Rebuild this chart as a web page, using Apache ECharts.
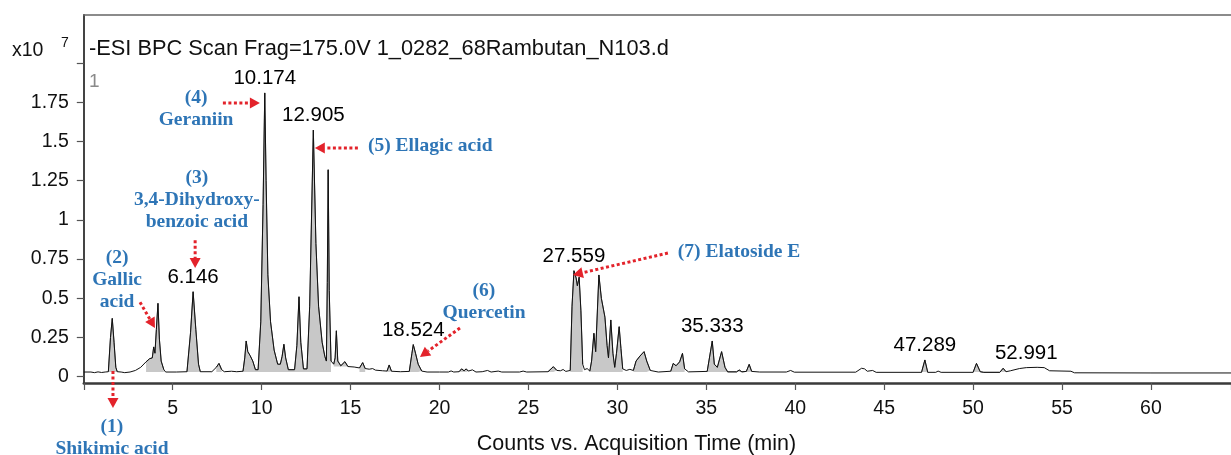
<!DOCTYPE html>
<html><head><meta charset="utf-8">
<script src="https://cdn.jsdelivr.net/npm/echarts@6/dist/echarts.min.js"></script>
<style>html,body{margin:0;padding:0;background:#fff}#c{width:1231px;height:455px}</style>
</head><body><div id="c"></div>
<script>
// ---- data (intensity in units of 10^7 counts, time in min) ----
const traceTime = [0.0,0.4,0.6,0.8,1.0,1.2,1.38,1.5,1.6,1.7,1.8,1.88,2.1,2.3,2.6,2.9,3.2,3.5,3.7,3.85,3.93,4.0,4.08,4.17,4.25,4.35,4.5,4.6,5.2,5.8,6.0,6.146,6.3,6.45,6.55,7.2,7.45,7.6,7.75,7.9,8.3,8.6,8.95,9.05,9.13,9.22,9.35,9.5,9.65,9.8,9.95,10.08,10.174,10.25,10.35,10.5,10.7,10.9,11.05,11.15,11.25,11.35,11.5,11.85,11.98,12.1,12.2,12.35,12.55,12.7,12.905,13.05,13.2,13.4,13.55,13.64,13.69,13.74,13.8,13.9,14.05,14.13,14.2,14.28,14.45,14.68,14.85,15.2,15.5,15.68,15.82,16.05,16.24,16.4,16.8,17.05,17.17,17.3,17.8,18.3,18.45,18.524,18.65,18.8,19.0,19.3,20.0,20.5,20.65,20.8,21.1,21.24,21.38,21.5,21.62,21.85,22.05,22.4,22.7,22.9,23.3,23.5,24.5,24.7,24.9,26.1,26.4,26.6,26.8,26.95,27.1,27.35,27.45,27.559,27.68,27.75,27.85,27.95,28.05,28.15,28.3,28.45,28.55,28.68,28.78,28.85,28.96,29.1,29.3,29.42,29.5,29.63,29.75,29.85,29.95,30.1,30.2,30.3,30.5,30.7,30.9,31.05,31.27,31.5,31.65,31.85,32.3,33.0,33.14,33.3,33.5,33.66,33.78,34.0,35.05,35.333,35.45,35.62,35.86,36.05,36.2,36.7,36.85,37.0,37.25,37.41,37.55,38.0,39.5,39.74,39.95,43.4,43.73,43.9,44.05,44.35,44.55,47.1,47.289,47.45,47.9,48.03,48.2,50.0,50.19,50.4,50.6,51.5,51.69,51.85,52.1,52.6,52.991,53.6,54.0,54.3,55.5,55.7,60.0,64.5];
const traceIntensity = [0.03,0.03,0.026,0.031,0.027,0.03,0.032,0.25,0.372,0.22,0.06,0.032,0.03,0.026,0.03,0.04,0.06,0.095,0.115,0.12,0.19,0.15,0.3,0.468,0.24,0.1,0.045,0.03,0.03,0.032,0.28,0.542,0.3,0.08,0.032,0.032,0.06,0.085,0.045,0.032,0.035,0.032,0.035,0.12,0.228,0.16,0.135,0.1,0.045,0.045,0.35,1.1,1.81,1.25,0.65,0.35,0.17,0.08,0.08,0.13,0.207,0.12,0.045,0.045,0.2,0.51,0.22,0.05,0.05,0.45,1.573,0.85,0.45,0.22,0.13,0.1,0.6,1.32,0.55,0.1,0.08,0.12,0.293,0.1,0.07,0.096,0.065,0.062,0.056,0.09,0.052,0.048,0.052,0.042,0.038,0.036,0.075,0.035,0.032,0.034,0.15,0.205,0.15,0.08,0.036,0.03,0.03,0.03,0.037,0.03,0.032,0.05,0.038,0.05,0.036,0.044,0.03,0.032,0.04,0.03,0.036,0.03,0.03,0.036,0.03,0.032,0.064,0.04,0.038,0.046,0.034,0.04,0.45,0.676,0.63,0.58,0.635,0.42,0.08,0.045,0.052,0.036,0.1,0.277,0.16,0.17,0.649,0.5,0.38,0.2,0.12,0.362,0.15,0.06,0.15,0.319,0.18,0.05,0.04,0.047,0.04,0.1,0.132,0.16,0.1,0.04,0.03,0.035,0.085,0.07,0.095,0.149,0.05,0.031,0.034,0.228,0.08,0.06,0.16,0.06,0.031,0.031,0.043,0.031,0.034,0.079,0.034,0.03,0.03,0.04,0.029,0.029,0.054,0.05,0.035,0.04,0.028,0.028,0.107,0.028,0.028,0.036,0.028,0.028,0.085,0.032,0.028,0.028,0.054,0.032,0.038,0.052,0.058,0.06,0.058,0.038,0.035,0.025,0.024,0.024];
// integrated (shaded) peak windows [start, end] in min, on the main baseline
const fillWindows = [[1.38,1.88],[3.5,4.5],[5.8,6.55],[7.45,7.75],[8.95,9.65],[9.8,10.9],[11.05,11.5],[11.85,12.35],[12.55,13.64],[13.64,13.9],[15.5,15.82],[17.05,17.3],[18.3,19.0],[21.1,21.62],[26.1,26.6],[27.35,27.75],[27.75,28.05],[28.45,28.85],[28.85,29.5],[29.5,29.85],[29.85,30.3],[30.9,31.85],[33.0,33.3],[33.3,33.78],[35.05,35.62],[35.62,36.2],[36.7,37.0],[37.25,37.55],[47.1,47.45],[50.0,50.6],[51.5,51.85]];
const fillBaseline = 0.03;
// small peaks integrated on the raised baseline after 13.7 min
const raisedFillWindows = [[14.05,14.28],[14.45,14.85]];
const raisedBaseline = 0.066;
// labelled retention times and their apex heights
const peakLabelTimes = [6.146,10.174,12.905,18.524,27.559,35.333,47.289,52.991];
const peakLabelHeights = [0.542,1.81,1.573,0.205,0.676,0.228,0.107,0.058];
// axis ticks
const xTickStep = 5;
const yTickStep = 0.25;
const yTickLabels = ['0','0.25','0.5','0.75','1','1.25','1.5','1.75'];
// compound annotations (anchor in data coords)
const annotationTexts = ['(1)\nShikimic acid','(2)\nGallic\nacid','(3)\n3,4-Dihydroxy-\nbenzoic acid','(4)\nGeraniin','(5) Ellagic acid','(6)\nQuercetin','(7) Elatoside E'];
const annotationTime = [1.585,1.87,6.36,6.31,15.975,22.5,33.4];
const annotationIntensity = [-0.392,0.614,1.127,1.71,1.471,0.476,0.795];
const annotationAlign = ['center','center','center','center','left','center','left'];
const arrowFrom = [[1.64,0.036],[3.16,0.475],[6.26,0.871],[7.82,1.745],[15.41,1.458],[21.15,0.311],[32.84,0.789]];
const arrowTo = [[1.64,-0.2],[4.0,0.311],[6.26,0.693],[9.9,1.745],[12.99,1.458],[18.9,0.126],[27.5,0.649]];
const titleText = '-ESI BPC Scan Frag=175.0V 1_0282_68Rambutan_N103.d';
const xAxisName = 'Counts vs. Acquisition Time (min)';

// ---- build ----
const SANS = '"Liberation Sans", Arial, sans-serif';
const SERIF = '"Liberation Serif", "Times New Roman", serif';
const tracePoints = traceTime.map((t, i) => [t, traceIntensity[i]]);
const inWin = wins => t => wins.some(w => t >= w[0] - 1e-9 && t <= w[1] + 1e-9);
const inMain = inWin(fillWindows), inRaised = inWin(raisedFillWindows);
const fillPoints = tracePoints.map(p => inMain(p[0]) ? p : [p[0], '-']);
const raisedFillPoints = tracePoints.map(p => inRaised(p[0]) ? p : [p[0], '-']);
const peakPoints = peakLabelTimes.map((t, i) => [t, peakLabelHeights[i]]);

const fillSeries = (data, origin) => ({ type: 'line', xAxisIndex: 0, yAxisIndex: 0, data, symbol: 'none', connectNulls: false,
  lineStyle: { color: '#6a6a6a', width: 1 }, areaStyle: { color: '#c8c8c8', opacity: 1, origin }, z: 2, silent: true });

const chart = echarts.init(document.getElementById('c'));
chart.setOption({
  animation: false,
  title: { text: titleText, left: 84, top: 33, textStyle: { fontFamily: SANS, fontSize: 21.8, fontWeight: 'normal', color: '#111' } },
  grid: [
    { left: 83.8, right: 0, top: 15, bottom: 72, containLabel: false, outerBoundsMode: 'none' },
    { left: 83.8, right: 0, top: 63.1, bottom: 78.3, containLabel: false, outerBoundsMode: 'none' }
  ],
  xAxis: [
    { type: 'value', gridIndex: 0, min: 0, max: 64.5, interval: xTickStep, position: 'bottom',
      axisLine: { show: true, onZero: false, lineStyle: { color: '#3a3a3a', width: 2.5 } },
      axisTick: { show: true, length: 7, lineStyle: { color: '#555', width: 1.2 } },
      axisLabel: { margin: 16, fontSize: 19.5, fontFamily: SANS, color: '#111',
        formatter: v => (v > 0 && Math.abs(v / xTickStep - Math.round(v / xTickStep)) < 1e-6) ? String(v) : '' },
      splitLine: { show: false },
      name: xAxisName, nameLocation: 'middle', nameGap: 50,
      nameTextStyle: { fontSize: 21.5, fontFamily: SANS, color: '#111', padding: [0, 42, 0, 0] } },
    { type: 'value', gridIndex: 0, min: 0, max: 64.5, position: 'top',
      axisLine: { show: true, onZero: false, lineStyle: { color: '#666', width: 1.5 } },
      axisTick: { show: false }, axisLabel: { show: false }, splitLine: { show: false } },
    { type: 'value', gridIndex: 1, min: 0, max: 64.5, show: false }
  ],
  yAxis: [
    { type: 'value', gridIndex: 0, min: -0.04, max: 2.307,
      axisLine: { show: true, onZero: false, lineStyle: { color: '#444', width: 2 } },
      axisTick: { show: false }, axisLabel: { show: false }, splitLine: { show: false } },
    { type: 'value', gridIndex: 1, min: 0, max: 2.0, interval: yTickStep,
      axisLine: { show: false },
      axisTick: { show: true, length: 7, lineStyle: { color: '#555', width: 1.2 } },
      axisLabel: { margin: 15, fontSize: 19.5, fontFamily: SANS, color: '#111',
        formatter: v => { const i = Math.round(v / yTickStep); return yTickLabels[i] !== undefined ? yTickLabels[i] : ''; } },
      splitLine: { show: false } }
  ],
  series: [
    fillSeries(fillPoints, fillBaseline),
    fillSeries(raisedFillPoints, raisedBaseline),
    { type: 'line', xAxisIndex: 0, yAxisIndex: 0, data: tracePoints, symbol: 'none',
      lineStyle: { color: '#111', width: 1 }, z: 3, silent: true },
    { type: 'scatter', xAxisIndex: 0, yAxisIndex: 0, data: peakPoints, symbolSize: 0,
      itemStyle: { color: '#000', opacity: 1 },
      label: { show: true, position: 'top', distance: 4, fontSize: 20.5, fontFamily: SANS, color: '#000',
        formatter: p => p.value[0].toFixed(3) }, z: 5, silent: true }
  ]
});

// ---- annotations (positioned from data coordinates) ----
const px = p => chart.convertToPixel({ gridIndex: 0 }, p);
const graphics = [
  { type: 'text', left: 12, top: 41, style: { text: 'x10', font: '19.5px ' + SANS, fill: '#111' } },
  { type: 'text', left: 61, top: 36, style: { text: '7', font: '14px ' + SANS, fill: '#111' } },
  { type: 'text', left: 89, top: 72, style: { text: '1', font: '19px ' + SANS, fill: '#8a8a8a' } }
];
annotationTexts.forEach((txt, i) => {
  const p = px([annotationTime[i], annotationIntensity[i]]);
  graphics.push({ type: 'text', x: p[0], y: p[1], z: 10,
    style: { text: txt, font: 'bold 19.5px ' + SERIF, fill: '#2E75B6', align: annotationAlign[i], textAlign: annotationAlign[i],
      verticalAlign: 'middle', textVerticalAlign: 'middle', lineHeight: 22 } });
});
const RED = '#E3232B';
arrowFrom.forEach((a, i) => {
  const s = px(a), e = px(arrowTo[i]);
  const dx = e[0] - s[0], dy = e[1] - s[1], L = Math.hypot(dx, dy);
  const ux = dx / L, uy = dy / L, head = 10, hw = 5.5;
  const bx = e[0] - ux * head, by = e[1] - uy * head;
  graphics.push({ type: 'polyline', z: 10, shape: { points: [s, [bx, by]] },
    style: { stroke: RED, lineWidth: 3, lineDash: [3, 2.5], fill: null } });
  graphics.push({ type: 'polygon', z: 10, shape: { points: [e, [bx - uy * hw, by + ux * hw], [bx + uy * hw, by - ux * hw]] },
    style: { fill: RED, stroke: null } });
});
chart.setOption({ graphic: graphics });
</script>
</body></html>
